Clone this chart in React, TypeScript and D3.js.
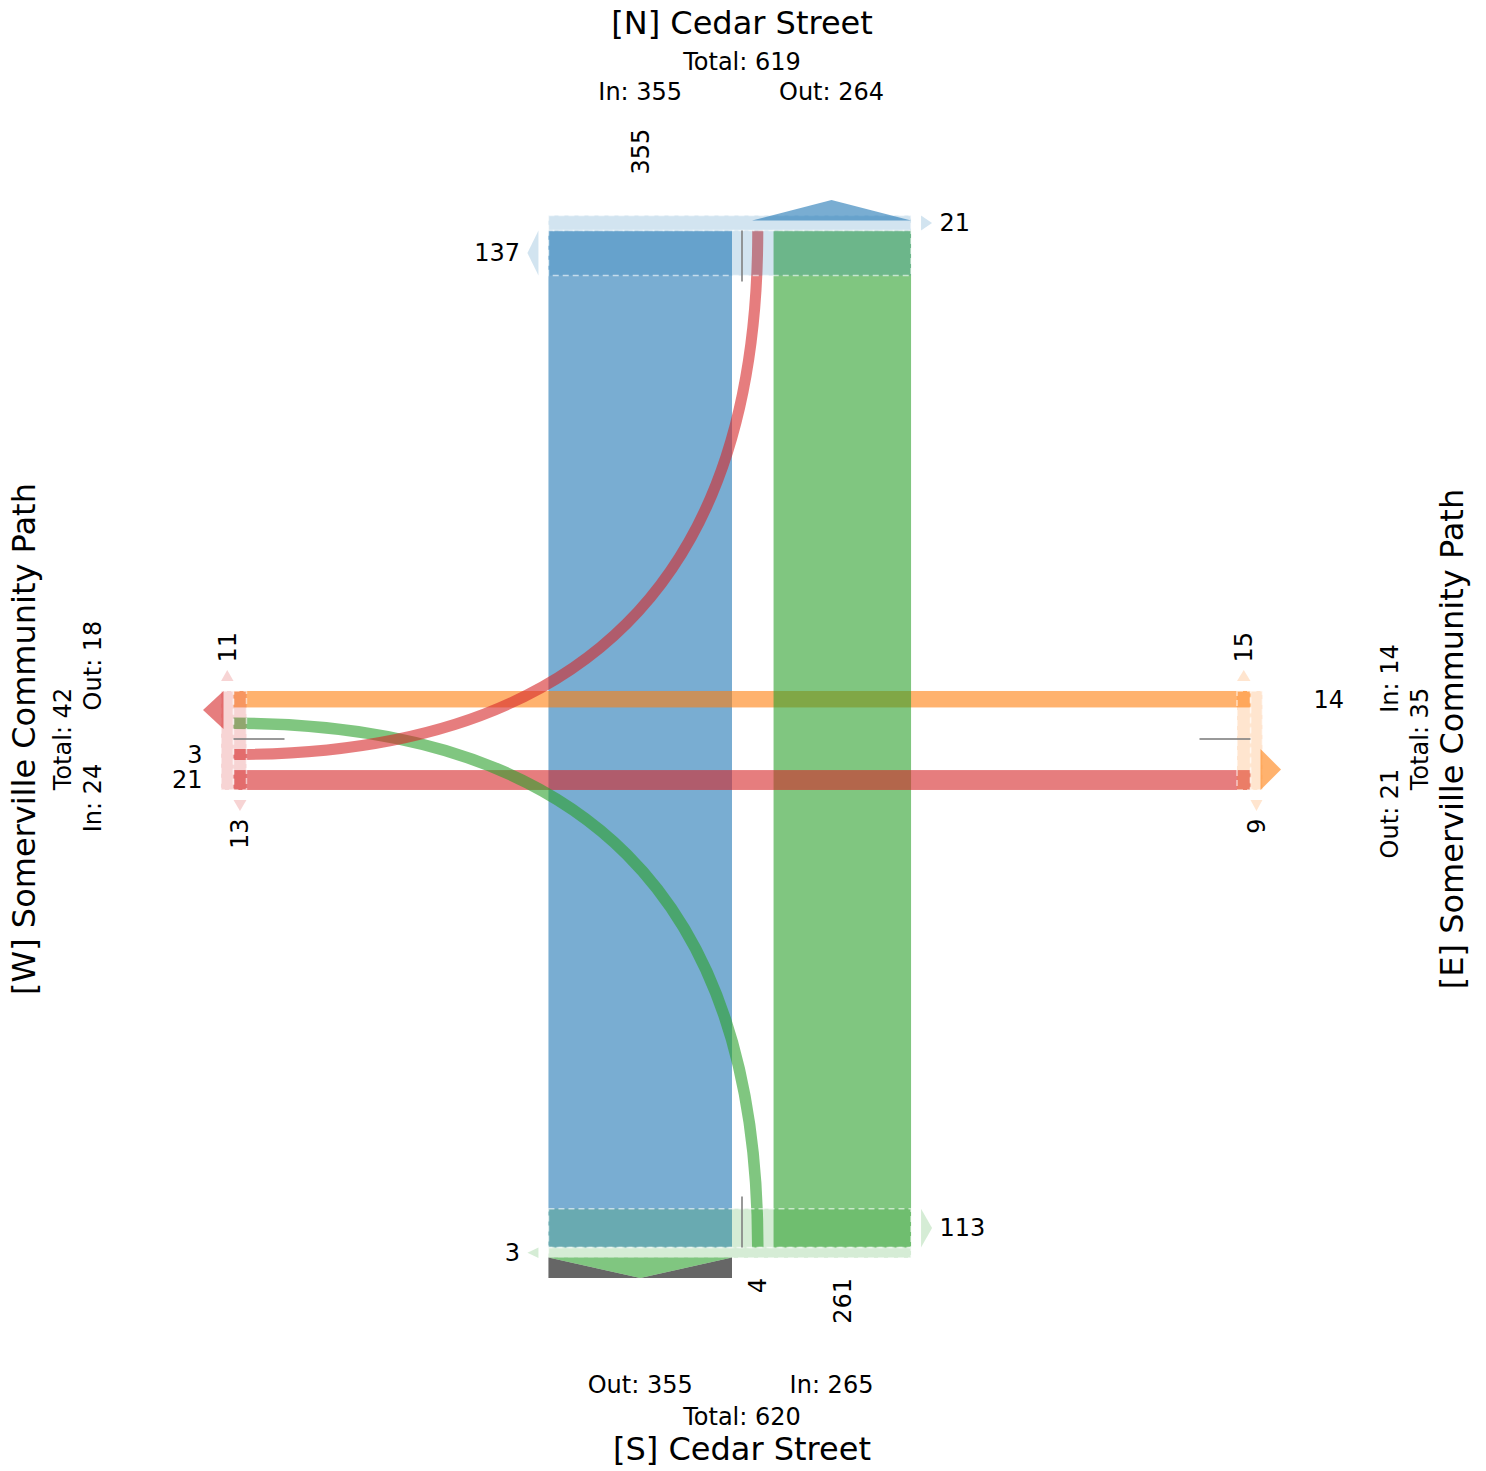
import React from "react";
import * as d3 from "d3";

// ---------------- data ----------------
const approachIds = ["N", "E", "S", "W"];
const approachNames = [
  "[N] Cedar Street",
  "[E] Somerville Community Path",
  "[S] Cedar Street",
  "[W] Somerville Community Path",
];
const approachTotals = [619, 35, 620, 42];
const approachIn = [355, 14, 265, 24];
const approachOut = [264, 21, 355, 18];

// movements (origin -> destination)
const flowFrom = ["N", "E", "S", "W", "S", "W"];
const flowTo = ["S", "W", "N", "E", "W", "N"];
const flowValues = [355, 14, 261, 21, 4, 3];

// crossing counts per approach (N, E, S, W)
const crossingClockwise = [21, 9, 3, 11];
const crossingCounterClockwise = [137, 15, 113, 13];

const approachColors = ["#1f77b4", "#ff7f0e", "#2ca02c", "#d62728"];

// ---------------- layout ----------------
const WIDTH = 1486;
const HEIGHT = 1471;
const CX = 742;
const CY = 739;
const HALF = 508.5;
const GAP = 10;
const FONT = "'DejaVu Sans', sans-serif";

const ROAD: Record<string, "V" | "H"> = { N: "V", S: "V", E: "H", W: "H" };
const IN_SIDE: Record<string, number> = { N: -1, S: 1, E: -1, W: 1 };
const OUT_SIDE: Record<string, number> = { N: 1, S: -1, E: 1, W: -1 };
const OUT_DIR: Record<string, number> = { N: -1, S: 1, E: 1, W: -1 };
const CW_DIR: Record<string, number> = { N: 1, E: 1, S: -1, W: -1 };
const FLOW_LABEL_GAP: Record<string, number> = { N: 56, E: 63, S: 30.5, W: 31 };
const GRAY_BACKED_OUT_ARROW = ["S"];

const crossCenter = (r: string) => (r === "V" ? CX : CY);
const axisCenter = (r: string) => (r === "V" ? CY : CX);
const roadEnd = (a: string) => axisCenter(ROAD[a]) + OUT_DIR[a] * HALF;
const pt = (r: string, along: number, cross: number): [number, number] =>
  r === "V" ? [cross, along] : [along, cross];
const rectOf = (r: string, a0: number, a1: number, c0: number, c1: number) => {
  const [x0, y0] = pt(r, Math.min(a0, a1), Math.min(c0, c1));
  const [x1, y1] = pt(r, Math.max(a0, a1), Math.max(c0, c1));
  return { x: x0, y: y0, width: x1 - x0, height: y1 - y0 };
};
const poly = (pts: [number, number][]) => pts.map((p) => p.join(",")).join(" ");

const RText = ({ x, y, anchor, size, dy, children }: any) => (
  <text
    transform={`translate(${x},${y}) rotate(-90)`}
    textAnchor={anchor}
    fontSize={size}
    dy={dy}
    fontFamily={FONT}
    fill="#000"
  >
    {children}
  </text>
);
const HText = ({ x, y, anchor, size, dy, children }: any) => (
  <text x={x} y={y} textAnchor={anchor} fontSize={size} dy={dy} fontFamily={FONT} fill="#000">
    {children}
  </text>
);

export default function App() {
  const laneW = d3.scaleLinear().domain([0, 100]).range([9.6, 58.6]);
  const stripW = d3.scaleLinear().domain([0, 100]).range([9.6, 35.5]);
  const colorOf = (a: string) => approachColors[approachIds.indexOf(a)];

  const flows = flowValues.map((v, i) => {
    const from = flowFrom[i];
    const to = flowTo[i];
    return { i, from, to, v, w: laneW(v), turn: ROAD[from] !== ROAD[to], color: colorOf(from) };
  });

  // lane slots per road side
  const sides: Record<string, { turns: [any, string][]; throughs: any[] }> = {};
  ["V", "H"].forEach((r) => [-1, 1].forEach((s) => (sides[r + s] = { turns: [], throughs: [] })));
  flows.forEach((f) => {
    const kFrom = ROAD[f.from] + IN_SIDE[f.from];
    const kTo = ROAD[f.to] + OUT_SIDE[f.to];
    if (f.turn) {
      sides[kFrom].turns.push([f, "from"]);
      sides[kTo].turns.push([f, "to"]);
    } else sides[kFrom].throughs.push(f);
  });
  const offsets = flows.map(() => ({ from: 0, to: 0 } as Record<string, number>));
  const outer: Record<string, number> = {};
  Object.entries(sides).forEach(([k, sd]) => {
    let pos = GAP;
    if (sd.turns.length) {
      const tw = d3.max(sd.turns, ([f]) => f.w) as number;
      sd.turns.forEach(([f, end]) => (offsets[f.i][end] = pos + tw / 2));
      pos += tw + GAP;
    }
    sd.throughs.forEach((f) => {
      offsets[f.i].from = offsets[f.i].to = pos + f.w / 2;
      pos += f.w + GAP;
    });
    outer[k] = pos - GAP;
  });

  const crossPos = (f: any, end: string) => {
    const a = end === "from" ? f.from : f.to;
    const s = end === "from" ? IN_SIDE[a] : OUT_SIDE[a];
    return crossCenter(ROAD[a]) + s * offsets[f.i][end];
  };
  const endPoint = (f: any, end: string) => {
    const a = end === "from" ? f.from : f.to;
    return pt(ROAD[a], roadEnd(a), crossPos(f, end));
  };

  const throughEls = flows
    .filter((f) => !f.turn)
    .map((f) => {
      const r = ROAD[f.from];
      const c = crossPos(f, "from");
      const rc = rectOf(r, axisCenter(r) - HALF, axisCenter(r) + HALF, c - f.w / 2, c + f.w / 2);
      return <rect key={"t" + f.i} {...rc} fill={f.color} fillOpacity={0.6} />;
    });

  const turnEls = flows
    .filter((f) => f.turn)
    .map((f) => {
      const p0 = endPoint(f, "from");
      const p2 = endPoint(f, "to");
      const ctrl: [number, number] = ROAD[f.from] === "V" ? [p0[0], p2[1]] : [p2[0], p0[1]];
      const p = d3.path();
      p.moveTo(p0[0], p0[1]);
      p.quadraticCurveTo(ctrl[0], ctrl[1], p2[0], p2[1]);
      return (
        <path
          key={"c" + f.i}
          d={p.toString()}
          fill="none"
          stroke={f.color}
          strokeOpacity={0.6}
          strokeWidth={f.w}
        />
      );
    });

  const approachEls = approachIds.map((a, k) => {
    const r = ROAD[a];
    const e = roadEnd(a);
    const d = OUT_DIR[a];
    const color = approachColors[k];
    const cLo = crossCenter(r) - outer[r + "-1"];
    const cHi = crossCenter(r) + outer[r + "1"];
    const els: any[] = [];

    // crossing strips
    const strips = [
      { v: crossingClockwise[k], a0: e, sign: d, dir: CW_DIR[a] },
      { v: crossingCounterClockwise[k], a0: e, sign: -d, dir: -CW_DIR[a] },
    ];
    strips.forEach((s, j) => {
      const sw = stripW(s.v);
      const a1 = s.a0 + s.sign * sw;
      const rc = rectOf(r, s.a0, a1, cLo, cHi);
      els.push(
        <rect
          key={a + "s" + j}
          {...rc}
          fill={color}
          fillOpacity={0.2}
          stroke="#fff"
          strokeOpacity={0.6}
          strokeWidth={1.5}
          strokeDasharray="6 4"
        />
      );
      const edge = s.dir > 0 ? cHi : cLo;
      const base = edge + s.dir * 10;
      const apex = edge + s.dir * 21;
      const mid = (s.a0 + a1) / 2;
      els.push(
        <polygon
          key={a + "sa" + j}
          points={poly([pt(r, s.a0, base), pt(r, a1, base), pt(r, mid, apex)])}
          fill={color}
          fillOpacity={0.2}
        />
      );
      const lc = apex + s.dir * 7.5;
      const [lx, ly] = pt(r, mid, lc);
      if (r === "V") {
        els.push(
          <HText key={a + "sl" + j} x={lx} y={ly} anchor={s.dir > 0 ? "start" : "end"} size={24} dy="0.35em">
            {s.v}
          </HText>
        );
      } else {
        els.push(
          <RText key={a + "sl" + j} x={lx} y={ly} anchor={s.dir < 0 ? "start" : "end"} size={24} dy="0.35em">
            {s.v}
          </RText>
        );
      }
    });

    // centre line stub
    const [g0x, g0y] = pt(r, e, crossCenter(r));
    const [g1x, g1y] = pt(r, e - d * 51, crossCenter(r));
    els.push(
      <line key={a + "g"} x1={g0x} y1={g0y} x2={g1x} y2={g1y} stroke="#808080" strokeOpacity={0.8} strokeWidth={2} />
    );

    // out arrow
    const os = OUT_SIDE[a];
    const c0 = crossCenter(r) + os * GAP;
    const c1 = crossCenter(r) + os * outer[r + os];
    const cm = (c0 + c1) / 2;
    const base = e + d * 10;
    const apex = e + d * 30.5;
    if (GRAY_BACKED_OUT_ARROW.includes(a)) {
      els.push(
        <polygon key={a + "gb1"} points={poly([pt(r, base, c0), pt(r, apex, c0), pt(r, apex, cm)])} fill="#666666" />,
        <polygon key={a + "gb2"} points={poly([pt(r, base, c1), pt(r, apex, c1), pt(r, apex, cm)])} fill="#666666" />
      );
    }
    els.push(
      <polygon
        key={a + "oa"}
        points={poly([pt(r, base, c0), pt(r, base, c1), pt(r, apex, cm)])}
        fill={color}
        fillOpacity={0.6}
      />
    );

    // flow labels (movements originating here)
    flows
      .filter((f) => f.from === a)
      .forEach((f) => {
        const [lx, ly] = pt(r, e + d * FLOW_LABEL_GAP[a], crossPos(f, "from"));
        if (r === "V") {
          els.push(
            <RText key={a + "fl" + f.i} x={lx} y={ly} anchor={d < 0 ? "start" : "end"} size={24} dy="0.35em">
              {f.v}
            </RText>
          );
        } else {
          els.push(
            <HText key={a + "fl" + f.i} x={lx} y={ly} anchor={d > 0 ? "start" : "end"} size={24} dy="0.35em">
              {f.v}
            </HText>
          );
        }
      });
    return <g key={a}>{els}</g>;
  });

  // titles
  const vInCenter = (a: string) => {
    const r = ROAD[a];
    const s = IN_SIDE[a];
    return crossCenter(r) + s * (GAP + outer[r + s]) / 2;
  };
  const vOutCenter = (a: string) => {
    const r = ROAD[a];
    const s = OUT_SIDE[a];
    return crossCenter(r) + s * (GAP + outer[r + s]) / 2;
  };
  const iN = 0, iE = 1, iS = 2, iW = 3;

  return (
    <svg
      width={WIDTH}
      height={HEIGHT}
      style={{ position: "absolute", left: 0, top: 0, background: "#fff" }}
    >
      {throughEls}
      {turnEls}
      {approachEls}

      {/* North */}
      <HText x={CX} y={34} anchor="middle" size={32}>{approachNames[iN]}</HText>
      <HText x={CX} y={69.5} anchor="middle" size={24}>{`Total: ${approachTotals[iN]}`}</HText>
      <HText x={vInCenter("N")} y={100} anchor="middle" size={24}>{`In: ${approachIn[iN]}`}</HText>
      <HText x={vOutCenter("N")} y={100} anchor="middle" size={24}>{`Out: ${approachOut[iN]}`}</HText>

      {/* South */}
      <HText x={vOutCenter("S")} y={1393} anchor="middle" size={24}>{`Out: ${approachOut[iS]}`}</HText>
      <HText x={vInCenter("S")} y={1393} anchor="middle" size={24}>{`In: ${approachIn[iS]}`}</HText>
      <HText x={CX} y={1424.5} anchor="middle" size={24}>{`Total: ${approachTotals[iS]}`}</HText>
      <HText x={CX} y={1460} anchor="middle" size={32}>{approachNames[iS]}</HText>

      {/* West */}
      <RText x={35} y={CY} anchor="middle" size={32}>{approachNames[iW]}</RText>
      <RText x={71} y={CY} anchor="middle" size={24}>{`Total: ${approachTotals[iW]}`}</RText>
      <RText x={101} y={CY - 73.5} anchor="middle" size={24}>{`Out: ${approachOut[iW]}`}</RText>
      <RText x={101} y={CY + 59} anchor="middle" size={24}>{`In: ${approachIn[iW]}`}</RText>

      {/* East */}
      <RText x={1463} y={CY} anchor="middle" size={32}>{approachNames[iE]}</RText>
      <RText x={1428} y={CY} anchor="middle" size={24}>{`Total: ${approachTotals[iE]}`}</RText>
      <RText x={1397.5} y={CY - 60.5} anchor="middle" size={24}>{`In: ${approachIn[iE]}`}</RText>
      <RText x={1397.5} y={CY + 74.5} anchor="middle" size={24}>{`Out: ${approachOut[iE]}`}</RText>
    </svg>
  );
}
